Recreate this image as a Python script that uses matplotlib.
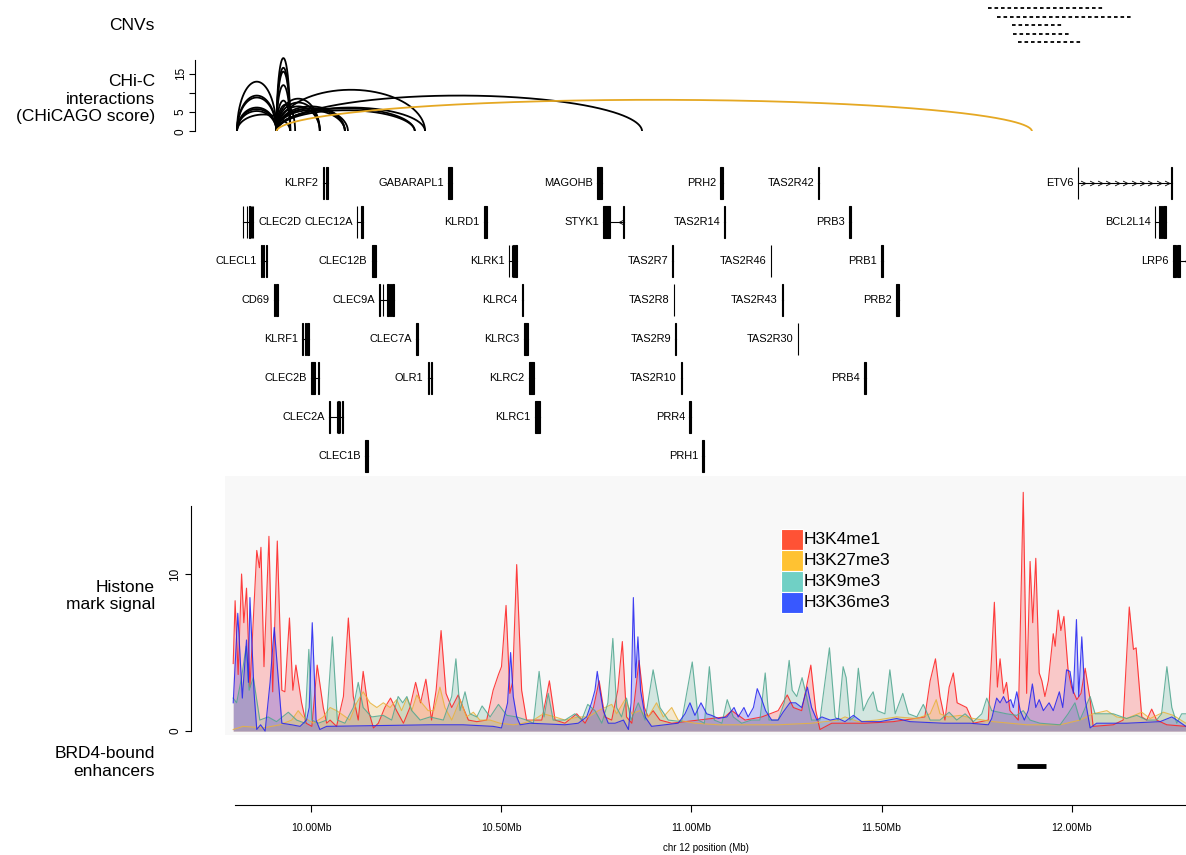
import numpy as np
import matplotlib.pyplot as plt
from matplotlib.patches import Rectangle
from matplotlib.path import Path

plt.rcParams['font.family'] = ['Liberation Sans', 'DejaVu Sans']

# ---------------- data (chr12, positions in Mb) ----------------
cnv_start = [11.780, 11.804, 11.843, 11.846, 11.859]
cnv_end = [12.088, 12.159, 11.975, 11.996, 12.028]

# CHi-C interactions: bait, other end, CHiCAGO score
chic_bait = [9.804, 9.804, 9.804, 9.804, 9.804, 9.804, 9.804,
             9.908, 9.908, 9.908, 9.908, 9.908, 9.908,
             9.908, 9.908, 9.908, 9.908, 9.908, 9.908, 9.908,
             9.908, 9.908, 9.908, 9.908, 9.908]
chic_end = [9.908, 9.908, 9.908, 9.908, 9.908, 9.908, 9.944,
            9.944, 9.944, 9.944, 9.944, 9.944, 9.957,
            10.022, 10.022, 10.022, 10.088, 10.088, 10.088, 10.096,
            10.272, 10.272, 10.299, 10.299, 10.870]
chic_score = [12.9, 9.3, 8.8, 6.2, 5.8, 5.3, 4.4,
              19.0, 16.5, 15.5, 12.0, 8.0, 7.0,
              8.5, 7.5, 6.5, 6.5, 6.0, 5.5, 6.0,
              6.0, 5.5, 10.8, 6.2, 9.3]
chic_sig_bait = [9.908]
chic_sig_end = [11.896]
chic_sig_score = [8.2]

# genes: name, track row, exons (start, end)
gene_names = ['KLRF2', 'GABARAPL1', 'MAGOHB', 'PRH2', 'TAS2R42', 'ETV6',
              'CLEC2D', 'CLEC12A', 'KLRD1', 'STYK1', 'TAS2R14', 'PRB3', 'BCL2L14',
              'CLECL1', 'CLEC12B', 'KLRK1', 'TAS2R7', 'TAS2R46', 'PRB1', 'LRP6',
              'CD69', 'CLEC9A', 'KLRC4', 'TAS2R8', 'TAS2R43', 'PRB2',
              'KLRF1', 'CLEC7A', 'KLRC3', 'TAS2R9', 'TAS2R30',
              'CLEC2B', 'OLR1', 'KLRC2', 'TAS2R10', 'PRB4',
              'CLEC2A', 'KLRC1', 'PRR4',
              'CLEC1B', 'PRH1']
gene_rows = [1, 1, 1, 1, 1, 1,
             2, 2, 2, 2, 2, 2, 2,
             3, 3, 3, 3, 3, 3, 3,
             4, 4, 4, 4, 4, 4,
             5, 5, 5, 5, 5,
             6, 6, 6, 6, 6,
             7, 7, 7,
             8, 8]
gene_exons = [
    [(10.029, 10.033), (10.039, 10.044)],
    [(10.359, 10.370)],
    [(10.751, 10.764)],
    [(11.075, 11.082)],
    [(11.333, 11.335)],
    [(12.016, 12.017), (12.263, 12.264)],
    [(9.819, 9.820), (9.829, 9.830), (9.836, 9.837), (9.840, 9.841), (9.843, 9.844), (9.846, 9.847)],
    [(10.120, 10.121), (10.130, 10.136)],
    [(10.454, 10.462)],
    [(10.767, 10.785), (10.821, 10.822)],
    [(11.086, 11.088)],
    [(11.414, 11.419)],
    [(12.220, 12.221), (12.229, 12.232), (12.235, 12.238), (12.241, 12.248)],
    [(9.866, 9.870), (9.873, 9.874), (9.880, 9.882)],
    [(10.158, 10.169)],
    [(10.520, 10.521), (10.527, 10.528), (10.531, 10.532), (10.536, 10.540)],
    [(10.949, 10.951)],
    [(11.208, 11.210)],
    [(11.499, 11.505)],
    [(12.267, 12.275), (12.278, 12.286), (12.310, 12.311)],
    [(9.901, 9.904), (9.907, 9.911)],
    [(10.178, 10.179), (10.187, 10.188), (10.200, 10.204), (10.207, 10.209), (10.212, 10.217)],
    [(10.554, 10.556)],
    [(10.953, 10.955)],
    [(11.238, 11.240)],
    [(11.538, 11.545)],
    [(9.975, 9.977), (9.983, 9.985), (9.989, 9.994)],
    [(10.275, 10.280)],
    [(10.559, 10.570)],
    [(10.957, 10.959)],
    [(11.279, 11.281)],
    [(10.000, 10.010), (10.018, 10.019)],
    [(10.306, 10.309), (10.314, 10.318)],
    [(10.572, 10.586)],
    [(10.972, 10.974)],
    [(11.455, 11.459)],
    [(10.047, 10.048), (10.066, 10.067), (10.071, 10.072), (10.075, 10.076), (10.079, 10.082)],
    [(10.588, 10.601)],
    [(10.994, 10.998)],
    [(10.141, 10.148)],
    [(11.028, 11.033)],
]
gene_label_right = ['CLEC2D']
gene_plus_strand = ['ETV6']
gene_minus_arrow = ['STYK1', 'LRP6']

# histone mark signal
h3k4me1_pos = [9.794, 9.799, 9.807, 9.816, 9.822, 9.829, 9.838, 9.856, 9.863, 9.867, 9.875, 9.888,
               9.898, 9.910, 9.922, 9.930, 9.942, 9.951, 9.959, 9.974, 9.986, 10.001, 10.015, 10.031,
               10.040, 10.049, 10.066, 10.084, 10.097, 10.110, 10.123, 10.136, 10.150, 10.163, 10.176,
               10.193, 10.208, 10.224, 10.242, 10.259, 10.274, 10.287, 10.301, 10.316, 10.328, 10.341,
               10.354, 10.369, 10.386, 10.399, 10.413, 10.435, 10.461, 10.478, 10.492, 10.500, 10.512,
               10.522, 10.529, 10.540, 10.553, 10.566, 10.584, 10.606, 10.615, 10.626, 10.641, 10.667,
               10.698, 10.720, 10.742, 10.757, 10.772, 10.790, 10.806, 10.818, 10.829, 10.843, 10.862,
               10.876, 10.886, 10.899, 10.917, 10.948, 11.088, 11.106, 11.141, 11.185, 11.228, 11.252,
               11.268, 11.290, 11.314, 11.327, 11.338, 11.369, 11.457, 11.531, 11.614, 11.628, 11.642,
               11.654, 11.667, 11.678, 11.689, 11.699, 11.724, 11.742, 11.781, 11.797, 11.805, 11.812,
               11.821, 11.829, 11.838, 11.860, 11.873, 11.882, 11.891, 11.898, 11.906, 11.915, 11.922,
               11.930, 11.939, 11.952, 11.957, 11.965, 11.972, 11.980, 11.991, 12.000, 12.014, 12.025,
               12.036, 12.049, 12.057, 12.110, 12.136, 12.152, 12.163, 12.170, 12.185, 12.198, 12.211,
               12.224, 12.251, 12.301]
h3k4me1_val = [4.3, 8.3, 3.6, 10.0, 6.9, 9.1, 2.8, 11.5, 10.4, 11.7, 4.1, 12.4,
               2.5, 12.1, 2.6, 2.5, 7.2, 2.6, 4.2, 1.8, 0.5, 0.3, 4.2, 1.5,
               0.5, 0.7, 0.3, 2.2, 7.2, 2.2, 0.7, 3.8, 1.3, 0.2, 0.5,
               1.5, 2.1, 1.3, 0.5, 1.5, 3.1, 1.8, 3.3, 0.7, 2.6, 6.4,
               2.4, 1.5, 2.3, 1.5, 0.7, 0.6, 0.7, 2.6, 3.6, 4.1, 8.0,
               2.4, 3.1, 10.6, 2.6, 0.7, 0.7, 0.7, 1.8, 3.2, 0.7, 0.5,
               1.1, 0.5, 1.5, 3.2, 0.9, 0.7, 2.6, 5.7, 0.9, 0.5, 4.5,
               1.5, 0.9, 1.3, 0.7, 0.5, 0.9, 1.3, 0.7, 0.9, 1.3, 2.3,
               1.5, 1.3, 4.2, 1.3, 0.1, 0.5, 0.5, 0.6, 0.9, 3.2, 4.6,
               2.2, 0.7, 2.8, 3.7, 1.8, 1.5, 0.5, 0.7, 8.2, 2.8, 4.6,
               2.4, 3.1, 1.3, 0.7, 15.2, 2.4, 10.8, 6.9, 11.0, 3.7, 3.2,
               2.2, 3.2, 6.2, 5.4, 7.7, 6.4, 7.3, 3.9, 2.8, 2.0, 2.4,
               4.0, 2.0, 0.3, 0.4, 0.7, 7.9, 5.2, 5.3, 0.9, 0.7, 1.4,
               0.7, 0.4, 0.3]

h3k27me3_pos = [9.794, 9.820, 9.873, 9.917, 9.948, 9.965, 9.978, 10.005, 10.031, 10.049, 10.066,
                10.084, 10.101, 10.119, 10.136, 10.154, 10.172, 10.189, 10.207, 10.224, 10.237,
                10.251, 10.264, 10.277, 10.290, 10.307, 10.322, 10.338, 10.351, 10.369, 10.391,
                10.408, 10.426, 10.443, 10.470, 10.496, 10.531, 10.557, 10.584, 10.610, 10.641,
                10.667, 10.702, 10.728, 10.755, 10.790, 10.803, 10.825, 10.843, 10.864, 10.886,
                10.908, 10.926, 10.948, 10.965, 11.009, 11.071, 11.228, 11.316, 11.386, 11.404,
                11.439, 11.487, 11.540, 11.593, 11.628, 11.644, 11.654, 11.676, 11.707, 11.742,
                11.794, 11.882, 11.970, 12.022, 12.057, 12.093, 12.119, 12.145, 12.185, 12.207,
                12.242, 12.268, 12.301]
h3k27me3_val = [0.1, 0.3, 0.2, 0.4, 0.7, 1.3, 0.9, 0.5, 0.9, 1.5, 1.3,
                1.0, 0.7, 1.8, 2.5, 1.8, 1.5, 1.8, 1.5, 2.0, 1.3,
                2.1, 1.3, 2.3, 1.8, 1.3, 1.3, 2.8, 1.5, 0.7, 2.0,
                0.9, 1.2, 0.7, 0.7, 0.5, 0.4, 0.5, 0.7, 1.1, 0.9,
                0.7, 0.9, 0.9, 1.3, 1.7, 1.1, 2.0, 1.1, 1.3, 0.9,
                1.8, 0.9, 1.5, 0.7, 0.5, 0.4, 0.4, 0.5, 0.7, 0.9,
                0.6, 0.7, 0.9, 0.8, 1.1, 2.0, 1.1, 0.9, 1.0, 0.8,
                0.6, 0.4, 0.4, 0.7, 1.1, 1.3, 0.9, 0.8, 1.2, 0.8,
                1.2, 1.0, 0.5]

h3k9me3_pos = [9.794, 9.803, 9.816, 9.828, 9.836, 9.847, 9.864, 9.886, 9.908, 9.939, 9.961,
               9.983, 9.993, 10.001, 10.018, 10.040, 10.055, 10.068, 10.088, 10.110, 10.123,
               10.136, 10.158, 10.189, 10.211, 10.228, 10.240, 10.251, 10.264, 10.286, 10.312,
               10.347, 10.369, 10.380, 10.391, 10.404, 10.417, 10.435, 10.449, 10.470, 10.492,
               10.514, 10.540, 10.566, 10.584, 10.599, 10.612, 10.623, 10.636, 10.667, 10.693,
               10.711, 10.727, 10.746, 10.764, 10.780, 10.793, 10.803, 10.816, 10.829, 10.841,
               10.860, 10.878, 10.899, 10.917, 10.939, 10.974, 11.002, 11.018, 11.034, 11.047,
               11.060, 11.080, 11.094, 11.110, 11.132, 11.158, 11.180, 11.194, 11.204, 11.228,
               11.244, 11.257, 11.265, 11.277, 11.291, 11.303, 11.316, 11.338, 11.363, 11.378,
               11.386, 11.399, 11.407, 11.417, 11.428, 11.439, 11.452, 11.465, 11.478, 11.489,
               11.509, 11.522, 11.536, 11.556, 11.571, 11.593, 11.610, 11.628, 11.654, 11.678,
               11.698, 11.720, 11.742, 11.764, 11.777, 11.790, 11.829, 11.856, 11.873, 11.891,
               11.917, 11.970, 11.991, 12.009, 12.022, 12.049, 12.062, 12.110, 12.145, 12.172,
               12.198, 12.224, 12.237, 12.251, 12.264, 12.277, 12.290, 12.301]
h3k9me3_val = [2.1, 1.8, 3.4, 5.4, 2.6, 3.4, 0.7, 0.9, 0.6, 1.2, 0.7,
               0.5, 5.2, 0.7, 0.5, 0.7, 6.0, 0.7, 0.5, 1.5, 3.1,
               1.5, 0.9, 1.0, 0.7, 2.2, 1.8, 2.2, 1.3, 0.7, 0.9,
               0.7, 2.2, 4.6, 1.3, 2.5, 1.1, 0.9, 1.6, 0.9, 1.7,
               1.0, 0.9, 0.7, 0.5, 3.8, 0.9, 2.4, 0.7, 0.7, 1.1,
               0.7, 1.7, 1.3, 0.5, 1.8, 5.9, 1.5, 0.9, 2.1, 0.7,
               1.8, 0.7, 3.9, 1.5, 0.7, 0.6, 4.4, 0.7, 0.5, 4.1,
               0.7, 0.5, 2.0, 0.9, 0.5, 0.7, 0.7, 3.7, 0.7, 0.7,
               1.8, 4.5, 2.6, 2.2, 3.4, 2.2, 0.7, 0.7, 5.3, 0.9,
               0.7, 4.1, 3.4, 0.7, 0.9, 4.0, 1.3, 2.0, 2.5, 1.3,
               1.1, 3.9, 1.1, 2.4, 1.1, 0.9, 1.7, 0.7, 0.7, 1.2,
               0.7, 1.1, 0.6, 1.1, 2.1, 1.3, 1.1, 1.0, 1.3, 0.7,
               0.5, 0.4, 1.1, 1.8, 0.7, 2.2, 1.1, 1.1, 0.8, 1.0,
               0.7, 0.7, 1.1, 4.1, 1.5, 0.5, 1.1, 1.1]

h3k36me3_pos = [9.794, 9.806, 9.818, 9.829, 9.834, 9.838, 9.849, 9.856, 9.866, 9.878, 9.891,
                9.902, 9.913, 9.922, 9.948, 9.970, 9.987, 9.994, 10.002, 10.012, 10.022,
                10.040, 10.312, 10.399, 10.478, 10.500, 10.516, 10.524, 10.531, 10.540, 10.549,
                10.575, 10.667, 10.702, 10.724, 10.737, 10.746, 10.752, 10.759, 10.768, 10.781,
                10.799, 10.821, 10.834, 10.841, 10.847, 10.853, 10.859, 10.866, 10.878, 10.895,
                10.930, 10.965, 10.983, 10.996, 11.009, 11.025, 11.040, 11.053, 11.071, 11.093,
                11.112, 11.123, 11.138, 11.149, 11.163, 11.173, 11.185, 11.195, 11.211, 11.228,
                11.241, 11.259, 11.274, 11.290, 11.305, 11.316, 11.330, 11.343, 11.365, 11.386,
                11.404, 11.426, 11.448, 11.496, 11.540, 11.575, 11.663, 11.733, 11.781, 11.790,
                11.803, 11.812, 11.821, 11.829, 11.840, 11.847, 11.856, 11.865, 11.876, 11.886,
                11.897, 11.906, 11.915, 11.926, 11.941, 11.952, 11.968, 11.977, 11.987, 11.996,
                12.005, 12.013, 12.019, 12.027, 12.036, 12.049, 12.066, 12.145, 12.233, 12.264,
                12.277, 12.301]
h3k36me3_val = [1.8, 7.5, 2.1, 5.8, 3.1, 8.5, 2.4, 0.1, 0.4, 0.0, 3.1,
                6.6, 3.2, 0.5, 0.4, 0.3, 0.7, 1.5, 6.9, 0.7, 0.1,
                0.3, 0.4, 0.4, 0.3, 0.2, 1.8, 5.0, 2.2, 0.9, 0.4,
                0.5, 0.4, 0.5, 0.9, 1.8, 2.6, 3.8, 2.6, 1.3, 0.5,
                0.5, 0.7, 0.1, 1.8, 8.5, 3.4, 6.0, 2.6, 0.9, 0.3,
                0.4, 0.5, 1.1, 1.8, 1.0, 1.8, 1.1, 1.0, 0.8, 0.9,
                1.5, 0.9, 1.5, 0.9, 1.5, 2.7, 2.0, 1.3, 0.7, 0.7,
                1.2, 1.8, 1.8, 1.5, 2.8, 1.5, 0.7, 0.9, 0.7, 0.8,
                0.6, 1.0, 0.6, 0.6, 0.8, 0.6, 0.5, 0.5, 0.4, 0.8,
                2.1, 1.8, 2.2, 1.8, 2.0, 1.5, 2.5, 1.3, 0.7, 1.3,
                3.0, 1.5, 2.0, 1.3, 1.8, 1.3, 2.5, 1.5, 3.9, 3.8,
                2.4, 7.1, 2.2, 6.0, 2.0, 0.2, 0.5, 0.5, 0.6, 0.9,
                0.7, 0.3]

brd4_start = [11.857]
brd4_end = [11.933]

# ---------------- layout ----------------
W, H = 1186, 855
XLIM = (9.7724, 12.3013)
fig = plt.figure(figsize=(W / 100, H / 100), dpi=100)

chevron_right = Path([(-1, 1), (1, 0), (-1, -1)], [Path.MOVETO, Path.LINETO, Path.LINETO])
chevron_left = Path([(1, 1), (-1, 0), (1, -1)], [Path.MOVETO, Path.LINETO, Path.LINETO])


def track(top, bottom):
    ax = fig.add_axes([225 / W, 1 - bottom / H, 961 / W, (bottom - top) / H])
    ax.set_xlim(*XLIM)
    return ax


def title(y, s):
    fig.text(155 / W, 1 - y / H, s, ha='right', va='center', fontsize=12.5, linespacing=1.25)


# CNVs
ax = track(0, 51)
for i, (s, e) in enumerate(zip(cnv_start, cnv_end)):
    ax.plot([s, e], [i, i], color='black', lw=1.3, ls=(0, (2.0, 1.6)))
ax.set_ylim(5.06, -1.01)
ax.axis('off')
title(25, 'CNVs')

# CHi-C
ax = track(55, 131.5)
t = np.linspace(0, np.pi, 300)
for b, o, sc in zip(chic_bait, chic_end, chic_score):
    ax.plot((b + o) / 2 + (o - b) / 2 * np.cos(t), sc * np.sin(t), color='black', lw=1.3)
for b, o, sc in zip(chic_sig_bait, chic_sig_end, chic_sig_score):
    ax.plot((b + o) / 2 + (o - b) / 2 * np.cos(t), sc * np.sin(t), color='#E5A823', lw=1.3)
ax.set_ylim(0, 19.8)
for sp in ['top', 'right', 'bottom']:
    ax.spines[sp].set_visible(False)
ax.spines['left'].set_position(('outward', 21.5))
ax.spines['left'].set_bounds(0, 18.5)
ax.set_xticks([])
ax.set_yticks([0, 5, 10, 15])
ax.set_yticklabels(['0', '5', '', '15'], rotation=90, va='center', fontsize=8.5)
ax.tick_params(axis='y', length=4, pad=2)
title(99, 'CHi-C\ninteractions\n(CHiCAGO score)')

# genes
ax = track(160, 476)
for name, row, exons in zip(gene_names, gene_rows, gene_exons):
    g0 = min(e[0] for e in exons)
    g1 = max(e[1] for e in exons)
    ax.plot([g0, g1], [row, row], color='black', lw=0.8)
    for s, e in exons:
        ax.add_patch(Rectangle((s, row - 0.41), e - s, 0.82, facecolor='black',
                               edgecolor='black', lw=0.8))
    if name in gene_plus_strand:
        for xm in np.linspace(g0 + 0.015, g1 - 0.012, 11):
            ax.plot(xm, row, marker=chevron_right, color='black', ms=3.5,
                    mfc='none', mew=0.6)
    if name in gene_minus_arrow:
        ax.plot(g1 - 0.008, row, marker=chevron_left, color='black', ms=3.5,
                mfc='none', mew=0.6)
    if name in gene_label_right:
        ax.annotate(name, (g1, row), xytext=(4, 0), textcoords='offset points',
                    ha='left', va='center', fontsize=7.9)
    else:
        ax.annotate(name, (g0, row), xytext=(-3, 0), textcoords='offset points',
                    ha='right', va='center', fontsize=7.9)
ax.set_ylim(8.51, 0.41)
ax.axis('off')

# histone marks
ax = track(476, 735)
ax.set_facecolor('#F8F8F8')
marks = [('H3K4me1', h3k4me1_pos, h3k4me1_val, '#FF1E1E', '#FF5235'),
         ('H3K27me3', h3k27me3_pos, h3k27me3_val, '#E9B23A', '#FFC232'),
         ('H3K9me3', h3k9me3_pos, h3k9me3_val, '#4FA68F', '#70D0C5'),
         ('H3K36me3', h3k36me3_pos, h3k36me3_val, '#2020F0', '#3858FF')]
for name, pos, val, lc, fc in marks:
    ax.fill_between(pos, 0, val, color=lc, alpha=0.22, lw=0)
    ax.plot(pos, val, color=lc, lw=0.8, alpha=0.85)
for i, (name, pos, val, lc, fc) in enumerate(marks):
    ax.add_patch(Rectangle((0.5786, 0.714 - i * 0.081), 0.0229, 0.081,
                           transform=ax.transAxes, facecolor=fc, edgecolor='white', lw=0.8))
    ax.text(0.6025, 0.753 - i * 0.081, name, transform=ax.transAxes, va='center',
            fontsize=12.5)
ax.set_ylim(-0.25, 16.24)
for sp in ['top', 'right', 'bottom']:
    ax.spines[sp].set_visible(False)
ax.spines['left'].set_position(('outward', 24.5))
ax.spines['left'].set_bounds(0, 14.3)
ax.set_xticks([])
ax.set_yticks([0, 10])
ax.set_yticklabels(['0', '10'], rotation=90, va='center', fontsize=8.5)
ax.tick_params(axis='y', length=4, pad=3)
title(596, 'Histone\nmark signal')

# BRD4 enhancers + axis
ax = track(738, 805)
for s, e in zip(brd4_start, brd4_end):
    ax.plot([s, e], [0.58, 0.58], color='black', lw=3.5, solid_capstyle='butt')
ax.set_ylim(0, 1)
for sp in ['top', 'right', 'left']:
    ax.spines[sp].set_visible(False)
ax.spines['bottom'].set_bounds(9.80, XLIM[1])
ax.spines['bottom'].set_linewidth(0.8)
ax.set_yticks([])
ticks = [10.0, 10.5, 11.0, 11.5, 12.0]
ax.set_xticks(ticks)
ax.set_xticklabels(['%.2fMb' % v for v in ticks], fontsize=7.5)
ax.tick_params(axis='x', length=5, pad=8, width=0.8)
ax.set_xlabel('chr 12 position (Mb)', fontsize=7, labelpad=7)
title(762, 'BRD4-bound\nenhancers')

fig.savefig('out.png', dpi=100)
